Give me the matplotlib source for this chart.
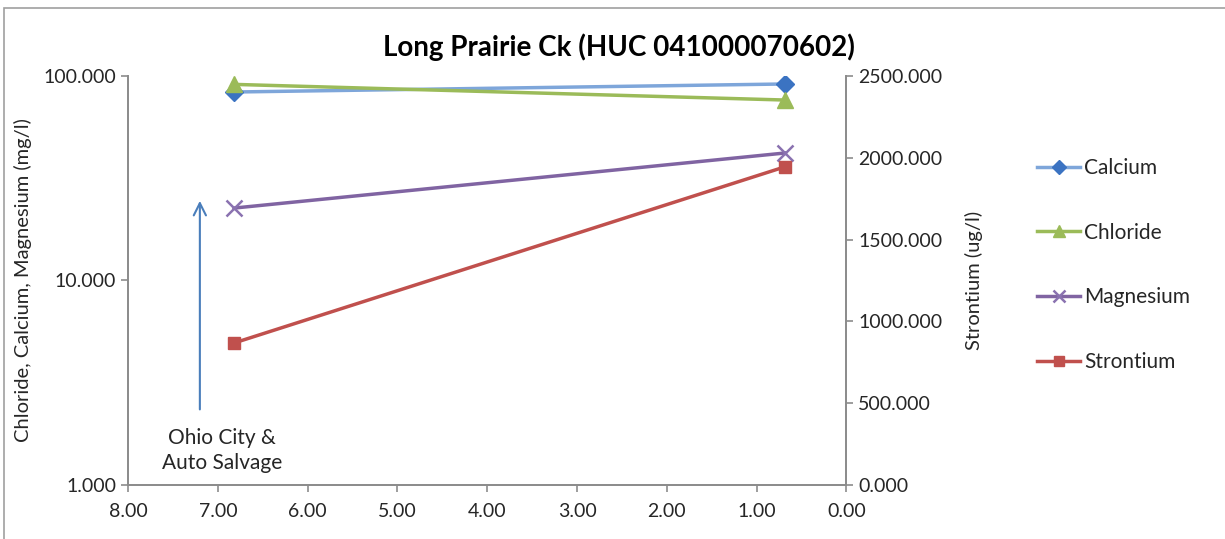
import matplotlib.pyplot as plt
from matplotlib.patches import Rectangle
from matplotlib.ticker import FixedLocator, NullLocator, FuncFormatter

plt.rcParams['font.family'] = ['Lato', 'DejaVu Sans']

# river mile (x) for the two sampling sites
river_mile = [6.82, 0.69]
calcium = [83.5, 91.4]
chloride = [91.0, 76.3]
magnesium = [22.6, 42.0]
strontium = [868.0, 1944.0]

left_ticks = [1, 10, 100]
right_ticks = [0, 500, 1000, 1500, 2000, 2500]
x_ticks = [8, 7, 6, 5, 4, 3, 2, 1, 0]

arrow_x = 7.2
arrow_from, arrow_to = 2.27, 25.3

gray = '#8c8c8c'
text_c = '#262626'

fig = plt.figure(figsize=(12.25, 5.39), dpi=100)
fig.patches.append(Rectangle((0.003, -0.01), 1.2, 0.995, transform=fig.transFigure,
                             fill=False, edgecolor='#a0a0a0', linewidth=1.2))

ax = fig.add_axes([0.1045, 0.1002, 0.5865, 0.7588])
ax2 = ax.twinx()

ax.set_yscale('log')
ax.set_ylim(1, 100)
ax.set_xlim(8, 0)
ax2.set_ylim(0, 2500)

ax.plot(river_mile, calcium, color='#7ea6da', lw=2.5, marker='D', ms=9,
        mfc='#3b73c2', mec='#3b73c2', label='Calcium', zorder=3)
ax.plot(river_mile, chloride, color='#9bbb59', lw=2.5, marker='^', ms=11,
        mfc='#9bbb59', mec='#9bbb59', label='Chloride', zorder=3)
ax.plot(river_mile, magnesium, color='#8064a2', lw=2.5, marker='x', ms=11,
        mew=1.8, mec='#8a72b0', label='Magnesium', zorder=3)
ax2.plot(river_mile, strontium, color='#c0504d', lw=2.5, marker='s', ms=9,
         mfc='#c0504d', mec='#c0504d', label='Strontium', zorder=3)

ax.annotate('', xy=(arrow_x, arrow_to), xytext=(arrow_x, arrow_from),
            arrowprops=dict(arrowstyle='->', color='#4a7ebb', lw=1.5,
                            mutation_scale=22))
ax.text(6.95, 1.48, 'Ohio City &\nAuto Salvage', ha='center', va='center',
        fontsize=15, color=text_c, linespacing=1.3)

ax.yaxis.set_major_locator(FixedLocator(left_ticks))
ax.yaxis.set_minor_locator(NullLocator())
ax.yaxis.set_major_formatter(FuncFormatter(lambda v, p: f'{v:.3f}'))
ax.xaxis.set_major_locator(FixedLocator(x_ticks))
ax.xaxis.set_major_formatter(FuncFormatter(lambda v, p: f'{v:.2f}'))
ax2.yaxis.set_major_locator(FixedLocator(right_ticks))
ax2.yaxis.set_major_formatter(FuncFormatter(lambda v, p: f'{v:.3f}'))

for a in (ax, ax2):
    a.spines['top'].set_visible(False)
    for s in ('left', 'right', 'bottom'):
        a.spines[s].set_color(gray)
        a.spines[s].set_linewidth(1.3)
    a.tick_params(colors=gray, labelcolor=text_c, labelsize=14, length=5, width=1.2)
ax.tick_params(axis='x', pad=8)

ax.set_ylabel('Chloride, Calcium, Magnesium (mg/l)', fontsize=14.5, color=text_c, labelpad=8)
ax2.set_ylabel('Strontium (ug/l)', fontsize=14.5, color=text_c, labelpad=16)
fig.text(0.505, 0.913, 'Long Prairie Ck (HUC 041000070602)', fontsize=20,
         fontweight='bold', color='black', ha='center', va='center')

handles = ax.get_lines()[:3] + ax2.get_lines()
leg = fig.legend(handles, [h.get_label() for h in handles], loc='upper left',
                 bbox_to_anchor=(0.8315, 0.742), frameon=False, fontsize=15,
                 labelspacing=2.15, handlelength=2.05, handletextpad=0.2,
                 markerscale=0.8)
for t in leg.get_texts():
    t.set_color(text_c)

fig.savefig('out.png', dpi=100)
